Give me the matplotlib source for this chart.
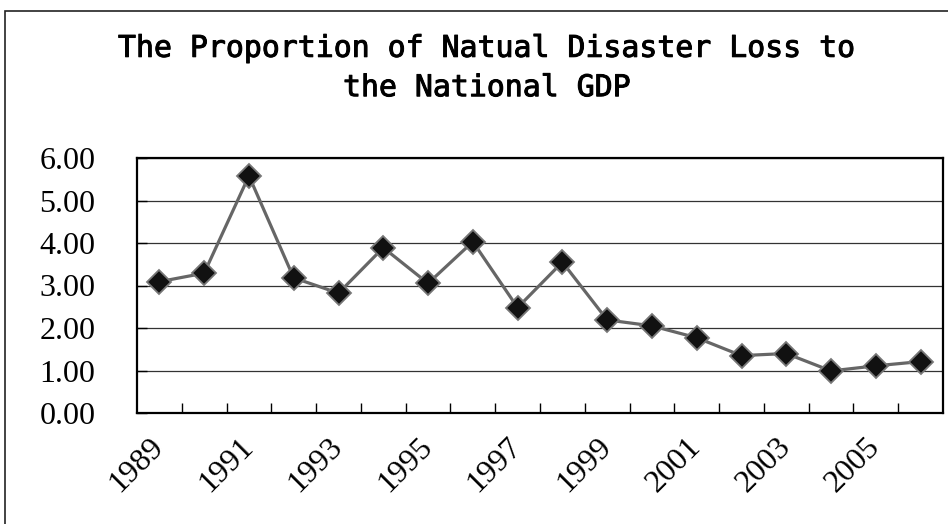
import matplotlib
matplotlib.use("Agg")
import matplotlib.pyplot as plt
import matplotlib.patheffects as pe
from matplotlib.patches import Rectangle
from matplotlib.ticker import FixedLocator, FuncFormatter

years = list(range(1989, 2007))
loss_ratio = [3.09, 3.29, 5.58, 3.18, 2.82, 3.89, 3.05, 4.03, 2.48, 3.55,
              2.19, 2.05, 1.77, 1.35, 1.40, 0.99, 1.11, 1.21]
y_ticks = [0, 1, 2, 3, 4, 5, 6]
title = "The Proportion of Natual Disaster Loss to\nthe National GDP"

fig = plt.figure(figsize=(9.48, 5.24), dpi=100)
fig.patch.set_facecolor("white")

# outer chart-area frame (right/bottom edges run off the image)
fig.patches.append(Rectangle((5 / 948, -0.05), 1.1, (524 - 11) / 524 + 0.05,
                             transform=fig.transFigure, fill=False,
                             edgecolor="#222222", linewidth=1.2))

ax = fig.add_axes([137 / 948, 1 - 413 / 524, (943 - 137) / 948, (413 - 158) / 524])

n = len(years)
x = list(range(n))
ax.plot(x, loss_ratio, color="#666666", linewidth=2.3, marker="D",
        markersize=12, markerfacecolor="#111111", markeredgecolor="#777777",
        markeredgewidth=1.3, zorder=3)

ax.set_xlim(-0.5, n - 0.5)
ax.set_ylim(0, 6)

# y axis
ax.yaxis.set_major_locator(FixedLocator(y_ticks))
ax.yaxis.set_major_formatter(FuncFormatter(lambda v, p: "%.2f" % v))
ax.tick_params(axis="y", direction="in", length=7, width=1, pad=30,
               labelsize=23)
for lbl in ax.get_yticklabels():
    lbl.set_fontfamily("Liberation Serif")
ax.grid(axis="y", color="#333333", linewidth=0.9)
ax.set_axisbelow(True)

# x axis: ticks between categories, labels on every other year
ax.xaxis.set_major_locator(FixedLocator([i + 0.5 for i in range(n - 1)]))
ax.xaxis.set_major_formatter(FuncFormatter(lambda v, p: ""))
ax.xaxis.set_minor_locator(FixedLocator(x[::2]))
ax.set_xticklabels([str(y) for y in years[::2]], minor=True)
ax.tick_params(axis="x", which="major", direction="in", length=7, width=1)
ax.tick_params(axis="x", which="minor", length=0, pad=21)
for lbl in ax.get_xticklabels(minor=True):
    lbl.set_fontfamily("Liberation Serif")
    lbl.set_fontsize(23)
    lbl.set_rotation(45)
    lbl.set_rotation_mode("anchor")
    lbl.set_ha("right")
    lbl.set_va("center")

for sp in ax.spines.values():
    sp.set_linewidth(1.6)
    sp.set_color("black")

# slightly heavier than regular weight, like the original
fig.text(487 / 948, 1 - 68 / 524, title, ha="center", va="center",
         fontsize=21.5, family="DejaVu Sans Mono", linespacing=1.45,
         path_effects=[pe.withStroke(linewidth=0.7, foreground="black")])

fig.savefig("out.png", dpi=100)
